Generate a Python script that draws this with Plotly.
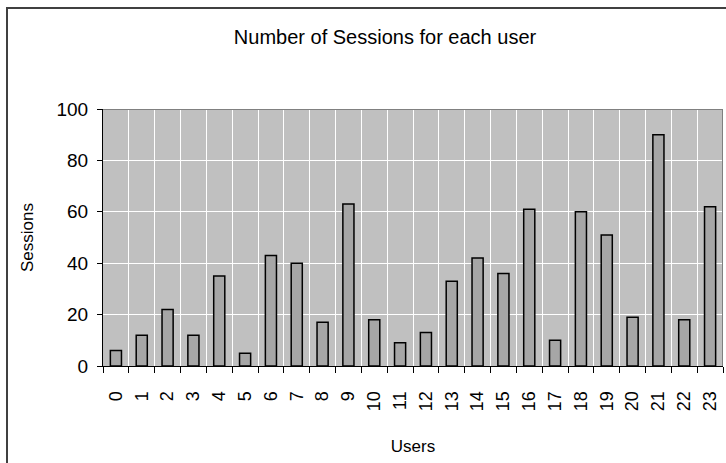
import plotly.graph_objects as go

# Session counts per user
users = list(range(24))
user_labels = [str(u) for u in users]
sessions = [6, 12, 22, 12, 35, 5, 43, 40, 17, 63, 18, 9, 13, 33, 42, 36, 61, 10, 60, 51, 19, 90, 18, 62]
y_ticks = [0, 20, 40, 60, 80, 100]

FONT = "Liberation Sans, Arial, sans-serif"
boundaries = [u - 0.5 for u in users] + [users[-1] + 0.5]

fig = go.Figure(
    go.Bar(
        x=users,
        y=sessions,
        width=0.43,
        marker=dict(color="#A6A6A6", line=dict(color="black", width=1.5)),
    )
)

# Plot-area placement (px) within the 726x463 page
L, R, T, B = 103, 3, 109, 97
W, H = 726, 463
pw = W - L - R
ph = H - T - B

fig.update_layout(
    width=W,
    height=H,
    margin=dict(l=L, r=R, t=T, b=B),
    paper_bgcolor="white",
    plot_bgcolor="#C0C0C0",
    showlegend=False,
    font=dict(family=FONT, color="black"),
    title=dict(
        text="Number of Sessions for each user",
        x=(385 - L) / pw,
        xref="paper",
        xanchor="center",
        y=1 - 37 / H,
        yanchor="middle",
        font=dict(size=20, family=FONT),
    ),
    bargap=0.57,
)

fig.update_xaxes(
    range=[-0.5, 23.5],
    tickmode="array",
    tickvals=users,
    ticktext=user_labels,
    tickangle=-90,
    tickfont=dict(size=18),
    ticklabelstandoff=17,
    ticks="",
    showgrid=False,
    zeroline=False,
    showline=True,
    linecolor="black",
    linewidth=1,
    minor=dict(
        tickmode="array",
        tickvals=boundaries,
        ticks="outside",
        ticklen=6,
        tickcolor="black",
        tickwidth=1,
        showgrid=True,
        gridcolor="white",
        gridwidth=1,
    ),
    title=dict(text="Users", font=dict(size=17), standoff=29),
)

fig.update_yaxes(
    range=[0, 100],
    tickmode="array",
    tickvals=y_ticks,
    tickfont=dict(size=19),
    ticklabelstandoff=5,
    ticks="outside",
    ticklen=5,
    tickcolor="black",
    showgrid=True,
    gridcolor="white",
    gridwidth=1,
    zeroline=False,
    showline=True,
    linecolor="black",
    linewidth=1,
    title=dict(text="Sessions", font=dict(size=17), standoff=18),
)

# Gray border on the top and right of the plot area
fig.add_shape(type="line", xref="x", yref="y", x0=-0.5, x1=23.5, y0=100, y1=100,
              line=dict(color="#808080", width=2), layer="above")
fig.add_shape(type="line", xref="x", yref="y", x0=23.5, x1=23.5, y0=0, y1=100,
              line=dict(color="#808080", width=2), layer="above")

# Chart frame (left and top edges visible within the page)
fig.add_shape(type="rect", xref="paper", yref="paper",
              x0=(7 - L) / pw, x1=(W + 10 - L) / pw,
              y0=-(H + 10 - T - ph) / ph, y1=1 + (T - 8) / ph,
              line=dict(color="#404040", width=2), layer="above")

fig.write_html("out.html")
